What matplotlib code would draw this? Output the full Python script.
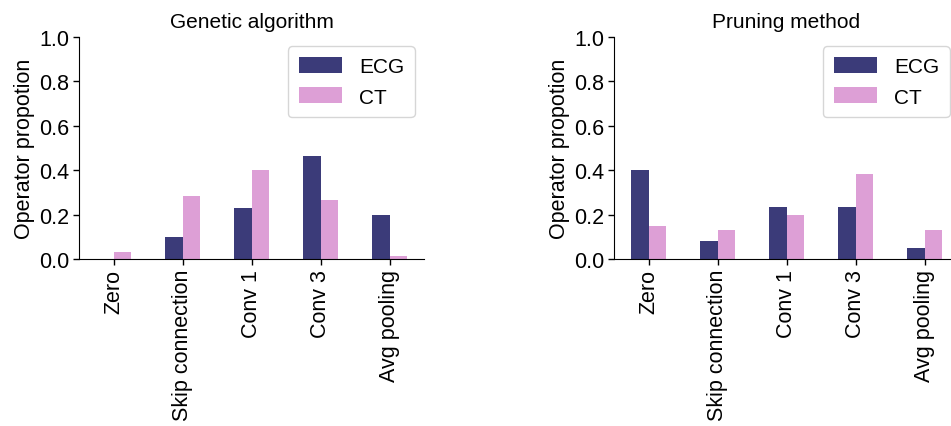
import matplotlib
matplotlib.use("Agg")
import matplotlib.pyplot as plt
import numpy as np

plt.rcParams['font.family'] = ['Liberation Sans', 'DejaVu Sans']

categories = ["Zero", "Skip connection", "Conv 1", "Conv 3", "Avg pooling"]
ga_ecg = [0.0, 0.10, 0.23, 0.464, 0.198]
ga_ct = [0.032, 0.284, 0.40, 0.266, 0.014]
pr_ecg = [0.40, 0.081, 0.234, 0.234, 0.05]
pr_ct = [0.149, 0.13, 0.198, 0.383, 0.13]

titles = ["Genetic algorithm", "Pruning method"]
series_names = ["ECG", "CT"]
c_ecg = "#3b3b79"
c_ct = "#dd9fd6"

W, H = 951, 427
fig = plt.figure(figsize=(W / 100, H / 100), dpi=100)

axes_px = [(79, 38, 424, 260), (614, 38, 959, 260)]
data = [(ga_ecg, ga_ct), (pr_ecg, pr_ct)]

for (x0, y0, x1, y1), (e, c), t in zip(axes_px, data, titles):
    ax = fig.add_axes([x0 / W, 1 - y1 / H, (x1 - x0) / W, (y1 - y0) / H])
    x = np.arange(len(categories))
    w = 0.25
    ax.bar(x - w / 2, e, w, color=c_ecg, label=series_names[0])
    ax.bar(x + w / 2, c, w, color=c_ct, label=series_names[1])
    ax.set_xlim(-0.5, len(categories) - 0.5)
    ax.set_ylim(0, 1.0)
    ax.set_yticks([0, 0.2, 0.4, 0.6, 0.8, 1.0])
    ax.set_yticklabels(["0.0", "0.2", "0.4", "0.6", "0.8", "1.0"])
    ax.set_xticks(x)
    ax.set_xticklabels(categories, rotation=90)
    ax.tick_params(labelsize=15.5, length=4, width=1, pad=3)
    ax.set_ylabel("Operator propotion", fontsize=15.5, labelpad=3)
    ax.set_title(t, fontsize=15, pad=7)
    for s in ["top", "right"]:
        ax.spines[s].set_visible(False)
    ax.legend(loc="upper right", fontsize=15, handlelength=2.1, handleheight=0.8,
              handletextpad=0.8, borderpad=0.5, labelspacing=0.55,
              borderaxespad=0.45)

fig.savefig("out.png", dpi=100)
